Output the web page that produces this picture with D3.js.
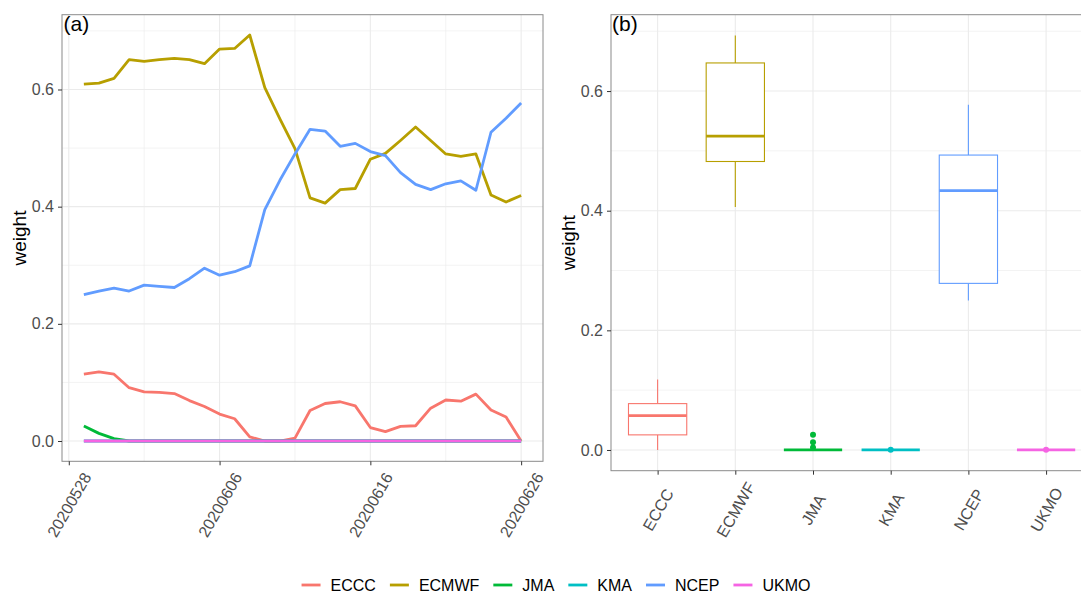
<!DOCTYPE html>
<html>
<head>
<meta charset="utf-8">
<script src="https://cdn.jsdelivr.net/npm/d3@7"></script>
<style>
  body { margin: 0; background: #fff; }
  svg text { font-family: "Liberation Sans", Arial, sans-serif; }
</style>
</head>
<body>
<div id="chart"></div>
<script>
//Data
var dates = ["20200528","20200529","20200530","20200531","20200601","20200602","20200603","20200604","20200605","20200606",
             "20200607","20200608","20200609","20200610","20200611","20200612","20200613","20200614","20200615","20200616",
             "20200617","20200618","20200619","20200620","20200621","20200622","20200623","20200624","20200625","20200626"];
var models = ["ECCC", "ECMWF", "JMA", "KMA", "NCEP", "UKMO"];
var colorList = ["#F8766D", "#B79F00", "#00BA38", "#00BFC4", "#619CFF", "#F564E3"];

var eccc  = [0.114,0.118,0.114,0.091,0.084,0.083,0.081,0.069,0.059,0.046,0.038,0.007,0.000,0.000,0.005,
             0.052,0.064,0.067,0.060,0.023,0.016,0.025,0.026,0.056,0.070,0.068,0.080,0.053,0.041,0.000];
var ecmwf = [0.609,0.611,0.619,0.651,0.648,0.651,0.653,0.651,0.644,0.669,0.670,0.693,0.603,0.550,0.499,
             0.415,0.406,0.429,0.431,0.481,0.491,0.513,0.536,0.513,0.490,0.486,0.490,0.420,0.408,0.419];
var jma   = [0.0255,0.013,0.004,0,0,0,0,0,0,0,0,0,0,0,0,0,0,0,0,0,0,0,0,0,0,0,0,0,0,0];
var kma   = [0,0,0,0,0,0,0,0,0,0,0,0,0,0,0,0,0,0,0.0003,0,0,0,0,0,0,0,0,0,0,0];
var ncep  = [0.250,0.256,0.261,0.256,0.266,0.264,0.262,0.277,0.295,0.283,0.289,0.299,0.395,0.445,0.490,
             0.532,0.529,0.503,0.508,0.494,0.487,0.458,0.438,0.429,0.439,0.444,0.428,0.527,0.551,0.577];
var ukmo  = [0,0,0,0,0,0,0,0,0,0,0,0,0,0,0,0,0,0,0,0,0,0,0,0,0,0.0003,0,0,0,0];

//x ticks of panel (a): day index and label
var dateTickIdx = [-1, 9, 19, 29];
var dateTickLabels = ["20200528", "20200606", "20200616", "20200626"];
var dateMinorIdx = [4, 14, 24];
var yTicks = [0, 0.2, 0.4, 0.6];
var yMinor = [0.1, 0.3, 0.5, 0.7];

var seriesList = [eccc, ecmwf, jma, kma, ncep, ukmo];
var series = models.map(function(m, i) { return { name: m, values: seriesList[i] }; });

//Set sizes
var W = 1081, H = 594;
var panelA = { left: 62, right: 543, top: 14.7, bottom: 461.3 };
var panelB = { left: 611, right: 1092.7, top: 14.7, bottom: 470.7 };

var colors = d3.scaleOrdinal().domain(models).range(colorList);

var svg = d3.select("#chart").append("svg")
  .attr("width", W).attr("height", H);

//y extent with ggplot 5% expansion
var yMax = d3.max(seriesList, function(s) { return d3.max(s); });
var yPad = yMax * 0.05;

//---------------- panel (a): lines ----------------
var nDays = dates.length;
var xA = d3.scaleLinear()
  .domain([-(nDays - 1) * 0.05, (nDays - 1) * 1.05])
  .range([panelA.left, panelA.right]);
var yA = d3.scaleLinear()
  .domain([-yPad, yMax + yPad])
  .range([panelA.bottom, panelA.top]);

var gA = svg.append("g");

//grid
gA.selectAll(".minY").data(yMinor).enter().append("line")
  .attr("x1", panelA.left).attr("x2", panelA.right)
  .attr("y1", function(d) { return yA(d); }).attr("y2", function(d) { return yA(d); })
  .attr("stroke", "#EBEBEB").attr("stroke-width", 0.6);
gA.selectAll(".minX").data(dateMinorIdx).enter().append("line")
  .attr("y1", panelA.top).attr("y2", panelA.bottom)
  .attr("x1", function(d) { return xA(d); }).attr("x2", function(d) { return xA(d); })
  .attr("stroke", "#EBEBEB").attr("stroke-width", 0.6);
gA.selectAll(".majY").data(yTicks).enter().append("line")
  .attr("x1", panelA.left).attr("x2", panelA.right)
  .attr("y1", function(d) { return yA(d); }).attr("y2", function(d) { return yA(d); })
  .attr("stroke", "#EBEBEB").attr("stroke-width", 1.1);
gA.selectAll(".majX").data(dateTickIdx).enter().append("line")
  .attr("y1", panelA.top).attr("y2", panelA.bottom)
  .attr("x1", function(d) { return xA(d); }).attr("x2", function(d) { return xA(d); })
  .attr("stroke", "#EBEBEB").attr("stroke-width", 1.1);

//lines
var line = d3.line()
  .x(function(d, i) { return xA(i); })
  .y(function(d) { return yA(d); });

gA.selectAll(".series").data(series).enter().append("path")
  .attr("d", function(d) { return line(d.values); })
  .attr("fill", "none")
  .attr("stroke", function(d) { return colors(d.name); })
  .attr("stroke-width", 2.8)
  .attr("stroke-linejoin", "round");

//border
gA.append("rect")
  .attr("x", panelA.left).attr("y", panelA.top)
  .attr("width", panelA.right - panelA.left).attr("height", panelA.bottom - panelA.top)
  .attr("fill", "none").attr("stroke", "#8a8a8a").attr("stroke-width", 1);

//axes
var axisAY = gA.append("g")
  .attr("transform", "translate(" + panelA.left + ",0)")
  .call(d3.axisLeft(yA).tickValues(yTicks).tickFormat(d3.format(".1f")).tickSize(4).tickPadding(4));
var axisAX = gA.append("g")
  .attr("transform", "translate(0," + panelA.bottom + ")")
  .call(d3.axisBottom(xA).tickValues(dateTickIdx)
        .tickFormat(function(d, i) { return dateTickLabels[i]; }).tickSize(4));
axisAX.selectAll("text")
  .attr("transform", "translate(0,43.5) rotate(-60)")
  .attr("x", 0).attr("y", 0).attr("dy", "0.35em")
  .style("text-anchor", "middle");

//---------------- panel (b): boxplots ----------------
var xB = d3.scalePoint().domain(models).range([panelB.left, panelB.right]).padding(0.6);
var yB = d3.scaleLinear()
  .domain([-yPad, yMax + yPad])
  .range([panelB.bottom, panelB.top]);
var boxW = xB.step() * 0.75;

var gB = svg.append("g");

gB.selectAll(".minY").data(yMinor).enter().append("line")
  .attr("x1", panelB.left).attr("x2", panelB.right)
  .attr("y1", function(d) { return yB(d); }).attr("y2", function(d) { return yB(d); })
  .attr("stroke", "#EBEBEB").attr("stroke-width", 0.6);
gB.selectAll(".majY").data(yTicks).enter().append("line")
  .attr("x1", panelB.left).attr("x2", panelB.right)
  .attr("y1", function(d) { return yB(d); }).attr("y2", function(d) { return yB(d); })
  .attr("stroke", "#EBEBEB").attr("stroke-width", 1.1);
gB.selectAll(".majX").data(models).enter().append("line")
  .attr("y1", panelB.top).attr("y2", panelB.bottom)
  .attr("x1", function(d) { return xB(d); }).attr("x2", function(d) { return xB(d); })
  .attr("stroke", "#EBEBEB").attr("stroke-width", 1.1);

//box statistics (same quantile type as R)
var stats = series.map(function(s) {
  var v = s.values.slice().sort(d3.ascending);
  var q1 = d3.quantile(v, 0.25), med = d3.quantile(v, 0.5), q3 = d3.quantile(v, 0.75);
  var iqr = q3 - q1;
  var inside = v.filter(function(x) { return x >= q1 - 1.5 * iqr && x <= q3 + 1.5 * iqr; });
  return {
    name: s.name, q1: q1, med: med, q3: q3,
    lo: d3.min(inside), hi: d3.max(inside),
    out: v.filter(function(x) { return x < q1 - 1.5 * iqr || x > q3 + 1.5 * iqr; })
  };
});

var boxes = gB.selectAll(".box").data(stats).enter().append("g");
boxes.append("line")
  .attr("x1", function(d) { return xB(d.name); }).attr("x2", function(d) { return xB(d.name); })
  .attr("y1", function(d) { return yB(d.hi); }).attr("y2", function(d) { return yB(d.q3); })
  .attr("stroke", function(d) { return colors(d.name); }).attr("stroke-width", 1.1);
boxes.append("line")
  .attr("x1", function(d) { return xB(d.name); }).attr("x2", function(d) { return xB(d.name); })
  .attr("y1", function(d) { return yB(d.q1); }).attr("y2", function(d) { return yB(d.lo); })
  .attr("stroke", function(d) { return colors(d.name); }).attr("stroke-width", 1.1);
boxes.append("rect")
  .attr("x", function(d) { return xB(d.name) - boxW / 2; })
  .attr("y", function(d) { return yB(d.q3); })
  .attr("width", boxW)
  .attr("height", function(d) { return yB(d.q1) - yB(d.q3); })
  .attr("fill", "white")
  .attr("stroke", function(d) { return colors(d.name); }).attr("stroke-width", 1.1);
boxes.append("line")
  .attr("x1", function(d) { return xB(d.name) - boxW / 2; })
  .attr("x2", function(d) { return xB(d.name) + boxW / 2; })
  .attr("y1", function(d) { return yB(d.med); }).attr("y2", function(d) { return yB(d.med); })
  .attr("stroke", function(d) { return colors(d.name); }).attr("stroke-width", 2.8);
boxes.each(function(d) {
  d3.select(this).selectAll("circle").data(d.out).enter().append("circle")
    .attr("cx", xB(d.name))
    .attr("cy", function(v) { return yB(v); })
    .attr("r", 3)
    .attr("fill", colors(d.name));
});

gB.append("rect")
  .attr("x", panelB.left).attr("y", panelB.top)
  .attr("width", panelB.right - panelB.left).attr("height", panelB.bottom - panelB.top)
  .attr("fill", "none").attr("stroke", "#8a8a8a").attr("stroke-width", 1);

var axisBY = gB.append("g")
  .attr("transform", "translate(" + panelB.left + ",0)")
  .call(d3.axisLeft(yB).tickValues(yTicks).tickFormat(d3.format(".1f")).tickSize(4).tickPadding(4));
var axisBX = gB.append("g")
  .attr("transform", "translate(0," + panelB.bottom + ")")
  .call(d3.axisBottom(xB).tickSize(4));
axisBX.selectAll("text")
  .attr("transform", "translate(0,39) rotate(-60)")
  .attr("x", 0).attr("y", 0).attr("dy", "0.35em")
  .style("text-anchor", "middle");

//common axis styling
svg.selectAll(".domain").remove();
svg.selectAll(".tick line").attr("stroke", "#333333").attr("stroke-width", 1);
svg.selectAll(".tick text").attr("fill", "#4D4D4D").style("font-size", "16px")
  .style("font-family", "'Liberation Sans', Arial, sans-serif");

//axis titles and panel tags
svg.append("text")
  .attr("transform", "translate(19.5," + (panelA.top + panelA.bottom) / 2 + ") rotate(-90)")
  .attr("text-anchor", "middle").attr("dy", "0.35em")
  .style("font-size", "19px").text("weight");
svg.append("text")
  .attr("transform", "translate(568.5," + (panelB.top + panelB.bottom) / 2 + ") rotate(-90)")
  .attr("text-anchor", "middle").attr("dy", "0.35em")
  .style("font-size", "19px").text("weight");
svg.append("text").attr("x", panelA.left + 1.5).attr("y", 31)
  .style("font-size", "21px").text("(a)");
svg.append("text").attr("x", panelB.left + 1).attr("y", 31)
  .style("font-size", "21px").text("(b)");

//legend
var legend = svg.append("g");
var lx = 0;
models.forEach(function(m) {
  var item = legend.append("g").attr("transform", "translate(" + lx + ",0)");
  item.append("line").attr("x1", 0).attr("x2", 19).attr("y1", 0).attr("y2", 0)
    .attr("stroke", colors(m)).attr("stroke-width", 2.8);
  var t = item.append("text").attr("x", 29).attr("dy", "0.35em")
    .style("font-size", "16px").text(m);
  lx += 29 + t.node().getComputedTextLength() + 14;
});
var legendW = lx - 14;
legend.attr("transform", "translate(" + (556 - legendW / 2) + ",585)");
</script>
</body>
</html>
